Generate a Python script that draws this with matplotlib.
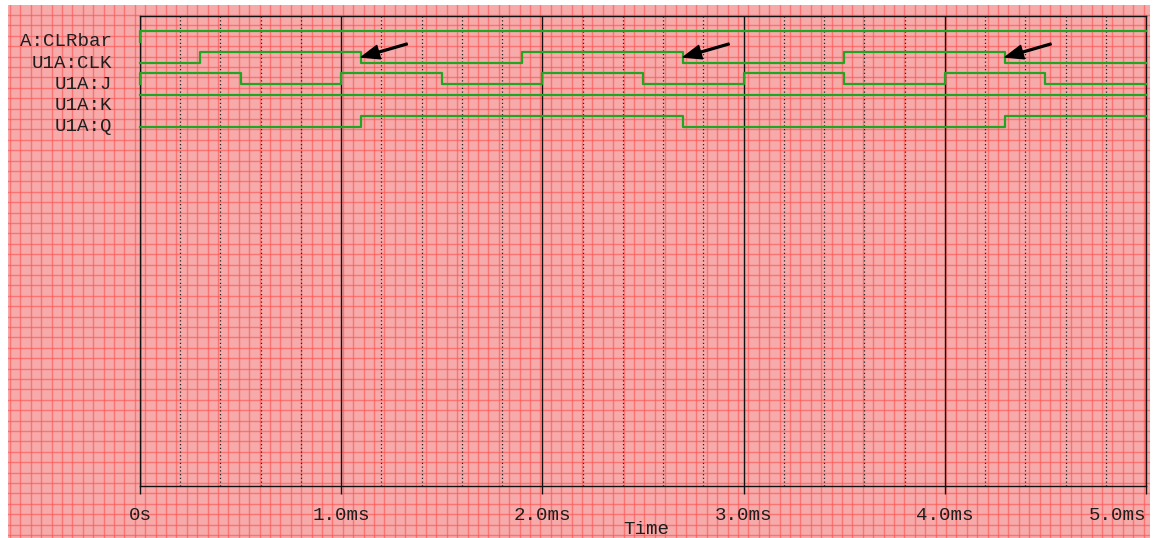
import matplotlib
matplotlib.use("Agg")
import matplotlib.pyplot as plt
import numpy as np
from matplotlib.transforms import blended_transform_factory

# ---------------- data ----------------
signal_names = ["A:CLRbar", "U1A:CLK", "U1A:J", "U1A:K", "U1A:Q"]
clrbar_t = [0.0, 0.0, 5.0]
clrbar_v = [0, 1, 1]
clk_t = [0.0, 0.3, 1.1, 1.9, 2.7, 3.5, 4.3, 5.0]
clk_v = [0, 1, 0, 1, 0, 1, 0, 0]
j_t = [0.0, 0.0, 0.5, 1.0, 1.5, 2.0, 2.5, 3.0, 3.5, 4.0, 4.5, 5.0]
j_v = [0, 1, 0, 1, 0, 1, 0, 1, 0, 1, 0, 0]
k_t = [0.0, 5.0]
k_v = [1, 1]
q_t = [0.0, 1.1, 2.7, 4.3, 5.0]
q_v = [0, 1, 0, 1, 1]
arrow_times = [1.1, 2.7, 4.3]          # CLK falling edges marked by arrows
tick_values = [0, 1, 2, 3, 4, 5]
tick_labels = ["0s", "1.0ms", "2.0ms", "3.0ms", "4.0ms", "5.0ms"]
x_label = "Time"

# ---------------- style ----------------
W, H = 1155, 538
plt.rcParams["font.family"] = ["Liberation Mono", "DejaVu Sans Mono"]
FS = 13.8
GREEN = "#22a522"
TXT = "#1e1e1e"

fig = plt.figure(figsize=(W / 100, H / 100), dpi=100, facecolor="white")

# graph-paper background
bg = fig.add_axes([8 / W, 0, (1150 - 8) / W, (538 - 5) / H])
bg.set_xlim(0, 1142)
bg.set_ylim(0, 533)
bg.set_axis_off()
bg.add_patch(plt.Rectangle((0, 0), 1142, 533, facecolor="#f7aaaa", edgecolor="none"))
for xv in np.arange(2, 1142, 10.4):
    bg.axvline(xv, color="#ff5050", lw=1.0, alpha=0.6)
for yv in np.arange(3, 533, 10.4):
    bg.axhline(yv, color="#ff5050", lw=1.0, alpha=0.6)

# main axes
L, R, T, B = 140, 1146, 16, 486
ax = fig.add_axes([L / W, (H - B) / H, (R - L) / W, (B - T) / H])
ax.patch.set_alpha(0)
ax.set_xlim(0, 5)
lane_px = 21.3
ax.set_ylim((B - T) / lane_px, 0)

HIGH, LOW = 0.69, 1.21


def level(i, vals):
    return [i + LOW - (LOW - HIGH) * v for v in vals]


series = [(clrbar_t, clrbar_v), (clk_t, clk_v), (j_t, j_v), (k_t, k_v), (q_t, q_v)]
for i, (t, v) in enumerate(series):
    ax.step(t, level(i, v), where="post", color=GREEN, lw=1.6, clip_on=False, zorder=4)

# grid
ax.set_xticks(tick_values)
ax.set_xticklabels(tick_labels)
ax.set_xticks(np.arange(0, 5.001, 0.2), minor=True)
ax.grid(which="major", axis="x", color="#111111", lw=1.0)
ax.grid(which="minor", axis="x", color="#222222", lw=0.9, ls=(0, (1, 2)))
ax.set_yticks([])
for s in ax.spines.values():
    s.set_color("#111111")
    s.set_linewidth(1.0)
ax.tick_params(axis="x", which="major", length=5.8, width=1.0, pad=9,
               labelsize=FS, labelcolor=TXT, color="#111111")
ax.tick_params(axis="x", which="minor", length=0)
labs = ax.get_xticklabels()
labs[-1].set_horizontalalignment("right")

# signal names
tr = blended_transform_factory(ax.transAxes, ax.transData)
for i, name in enumerate(signal_names):
    ax.text(-(L - 112) / (R - L), i + LOW, name, transform=tr, ha="right",
            va="center", fontsize=FS, color=TXT)

# arrows to CLK falling edges
for t in arrow_times:
    ax.annotate("", xy=(t, 1 + 0.93), xytext=(33, 9.5), textcoords="offset points",
                arrowprops=dict(facecolor="black", edgecolor="black", width=1.3,
                                headwidth=10, headlength=13, shrink=0), zorder=6)

fig.text(646 / W, 1 - 529.5 / H, x_label, ha="center", va="center", fontsize=FS, color=TXT)

fig.savefig("out.png", dpi=100, facecolor="white")
